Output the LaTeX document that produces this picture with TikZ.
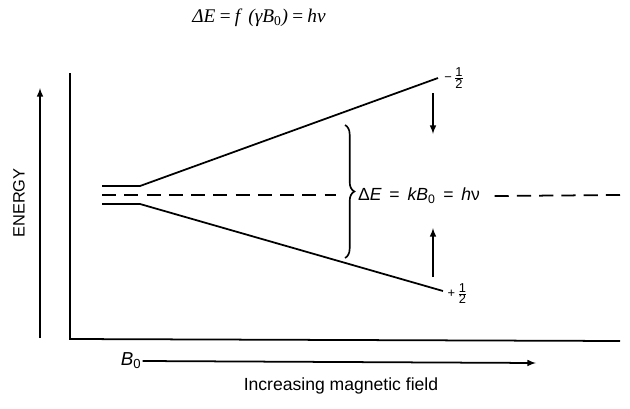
\documentclass[tikz,border=0pt]{standalone}
\usepackage{fontspec}
\setmainfont{Liberation Serif}
\setsansfont{Liberation Sans}
\usepackage{tikz}
\usetikzlibrary{arrows, positioning, decorations.pathreplacing}

\begin{document}
\begin{tikzpicture}[
    x=0.03cm, y=-0.03cm,
    auto,
    % styles for levels, axes and labels
    level/.style={draw, line width=1.5pt},
    gap/.style={draw, line width=1.5pt, dash pattern=on 12pt off 7pt},
    line/.style={draw, -latex, line width=1.5pt},
    label/.style={font=\fontsize{14}{17}\selectfont\sffamily, inner sep=1pt},
    spin/.style={font=\fontsize{11}{13}\selectfont\sffamily, inner sep=1pt}
]
    \useasboundingbox (0,0) rectangle (630,408);

    % Formula
    \node (formula) at (259,18) {\fontsize{16.5}{20}\selectfont\itshape ΔE\,=\,f\, (γB\textsubscript{\upshape 0})\,=\,hν};

    % Axes
    \coordinate (ytop) at (70,73);
    \coordinate (origin) at (70,339);
    \coordinate (xend) at (620,341);
    \draw [level] (ytop) -- (origin) -- (xend);

    \coordinate (ebot) at (40,338);
    \coordinate (etop) at (40,88);
    \path [line] (ebot) -- (etop);
    \node [label, rotate=90] (energy) at (19,203) {ENERGY};

    % Levels
    \coordinate (up0) at (102,186);
    \coordinate (up1) at (140,186);
    \coordinate (upend) at (438,78);
    \coordinate (lo0) at (102,204);
    \coordinate (lo1) at (140,204);
    \coordinate (loend) at (443,291);
    \draw [level] (up0) -- (up1) -- (upend);
    \draw [level] (lo0) -- (lo1) -- (loend);
    \node [spin, right=0.15cm of upend] (minus) {−\,$\frac{\textsf{1}}{\textsf{2}}$};
    \node [spin, right=0.1cm of loend, yshift=-2pt] (plus) {+\,$\frac{\textsf{1}}{\textsf{2}}$};

    % Splitting
    \draw [decorate, decoration={brace, amplitude=8pt}, line width=1.4pt] (345,125) -- (345,258);
    \node [label, font=\fontsize{15}{18}\selectfont\sffamily] (split) at (419,196) {Δ\textit{E}\, = \,\textit{kB}\textsubscript{0}\, = \,\textit{h}ν};

    \coordinate (mid0) at (102,195);
    \coordinate (mid1) at (336,195);
    \coordinate (midend) at (620,195);
    \draw [gap] (mid0) -- (mid1);
    \draw [gap] ([xshift=0.4cm]split.east) -- (midend);

    % Transitions
    \coordinate (dtop) at (433,93);
    \coordinate (dbot) at (433,134);
    \coordinate (ubot) at (433,277);
    \coordinate (utop) at (433,228);
    \path [line] (dtop) -- (dbot);
    \path [line] (ubot) -- (utop);

    % Field axis
    \node [label, font=\fontsize{16}{19}\selectfont\sffamily] (bzero) at (131,361) {\textit{B}\textsubscript{0}};
    \coordinate (bend) at (536,363);
    \path [line] (bzero.east) -- (bend);
    \node [label, font=\fontsize{15}{18}\selectfont\sffamily] (caption) at (341,386) {Increasing magnetic field};
\end{tikzpicture}
\end{document}
